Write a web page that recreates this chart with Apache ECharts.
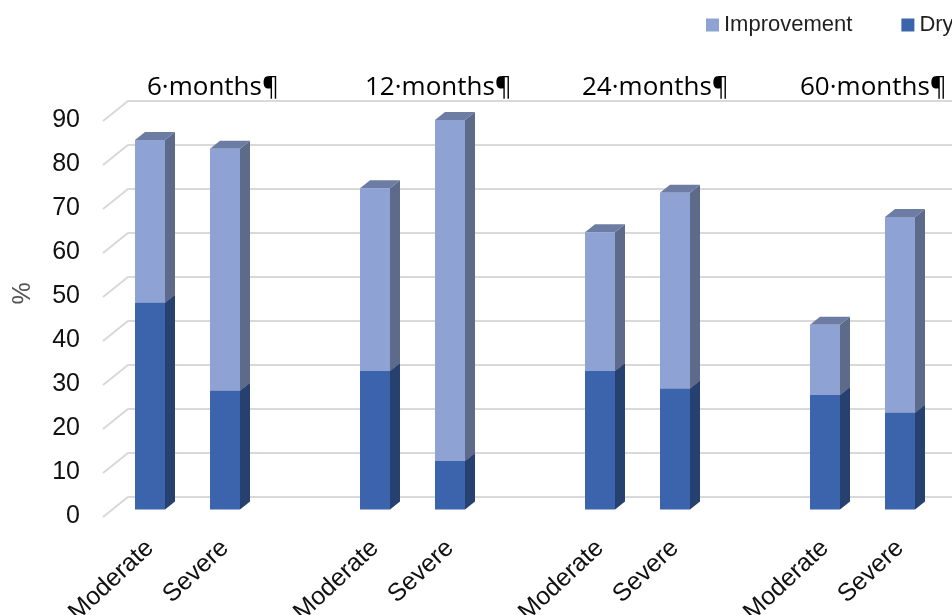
<!DOCTYPE html>
<html><head><meta charset="utf-8">
<script src="https://cdn.jsdelivr.net/npm/echarts@6/dist/echarts.min.js"></script>
<style>html,body{margin:0;padding:0;overflow:hidden;background:#fff;width:952px;height:615px}#c{width:1000px;height:615px}</style>
</head><body><div id="c"></div>
<script>
const categories = ['Moderate','Severe','','Moderate','Severe','','Moderate','Severe','','Moderate','Severe'];
const dryValues = [47, 27, null, 31.5, 11, null, 31.5, 27.5, null, 26, 22];
const improvementValues = [37, 55, null, 41.5, 77.5, null, 31.5, 44.5, null, 16, 44.5];
const groupTitles = ['6·months¶','12·months¶','24·months¶','60·months¶'];
const yTicks = [0,10,20,30,40,50,60,70,80,90];

const FONT = '"Liberation Sans", Arial, sans-serif';
const BAR_W = 30, DX = 10, DY = -8;

function barRenderer(front, side, top) {
  return function (params, api) {
    const x = api.value(0), b = api.value(1), t = api.value(2);
    const p0 = api.coord([x, b]);
    const p1 = api.coord([x, t]);
    const l = p0[0] - BAR_W / 2;
    const yt = p1[1], yb = p0[1];
    return {
      type: 'group',
      children: [
        {type: 'polygon', shape: {points: [[l + BAR_W, yt], [l + BAR_W + DX, yt + DY], [l + BAR_W + DX, yb + DY], [l + BAR_W, yb]]}, style: {fill: side}},
        {type: 'polygon', shape: {points: [[l, yt], [l + DX, yt + DY], [l + BAR_W + DX, yt + DY], [l + BAR_W, yt]]}, style: {fill: top}},
        {type: 'rect', shape: {x: l, y: yt, width: BAR_W, height: yb - yt}, style: {fill: front}}
      ]
    };
  };
}

const dryData = [], impData = [];
categories.forEach((c, i) => {
  if (dryValues[i] != null) dryData.push([i, 0, dryValues[i]]);
  if (improvementValues[i] != null) impData.push([i, dryValues[i], dryValues[i] + improvementValues[i]]);
});

const chart = echarts.init(document.getElementById('c'));
chart.setOption({
  animation: false,
  backgroundColor: '#fff',
  grid: {left: 112.5, width: 825, top: 113.5, bottom: 105.5, containLabel: false, outerBoundsMode: 'none'},
  legend: {
    data: ['Improvement', 'Dry'],
    left: 706, top: 14, padding: 0,
    icon: 'rect', itemWidth: 13, itemHeight: 13, itemGap: 49,
    textStyle: {fontSize: 22, color: '#1f1f1f', fontFamily: FONT}
  },
  xAxis: {
    type: 'category', data: categories,
    axisLine: {show: false}, axisTick: {show: false}, splitLine: {show: false},
    axisLabel: {interval: 0, rotate: 43, margin: 35, fontSize: 25, color: '#111', fontFamily: FONT}
  },
  yAxis: {
    type: 'value', min: 0, max: 90, interval: 10,
    name: '%', nameLocation: 'middle', nameRotate: 90, nameGap: 77,
    nameTextStyle: {fontSize: 25, color: '#555', fontFamily: FONT, padding: [0, 0, 0, 36]},
    axisLine: {show: false}, axisTick: {show: false}, splitLine: {show: false},
    axisLabel: {
      margin: 32.5, color: '#111',
      formatter: v => '{a|' + v + '}',
      rich: {a: {fontSize: 25, color: '#111', fontFamily: FONT, padding: [14, 0, 0, 0]}}
    }
  },
  graphic: groupTitles.map((t, k) => ({
    type: 'text', x: [147, 365, 582, 800][k], y: 88,
    style: {text: t, font: '26px "Open Sans", sans-serif', fill: '#000', textAlign: 'left', textVerticalAlign: 'middle'}
  })),
  series: [
    {
      type: 'custom', name: 'grid3d', silent: true, z: 1,
      data: yTicks.map(v => [0, v]),
      encode: {x: 0, y: 1},
      renderItem: function (params, api) {
        const y = api.coord([0, api.value(1)])[1];
        const gx = params.coordSys.x;
        return {type: 'polyline', shape: {points: [[gx - 9.5, y + 7.5], [gx + 15.5, y - 12.5], [1000, y - 12.5]]},
          style: {stroke: '#d9d9d9', lineWidth: 2, fill: null}};
      }
    },
    {
      type: 'custom', name: 'Dry', z: 3,
      itemStyle: {color: '#3b64ad'},
      data: dryData, encode: {x: 0, y: 2},
      renderItem: barRenderer('#3b64ad', '#26406f', '#2f528f')
    },
    {
      type: 'custom', name: 'Improvement', z: 4,
      itemStyle: {color: '#8fa2d4'},
      data: impData, encode: {x: 0, y: 2},
      renderItem: barRenderer('#8fa2d4', '#5d6a8a', '#6d7ca3')
    }
  ]
});
</script></body></html>
